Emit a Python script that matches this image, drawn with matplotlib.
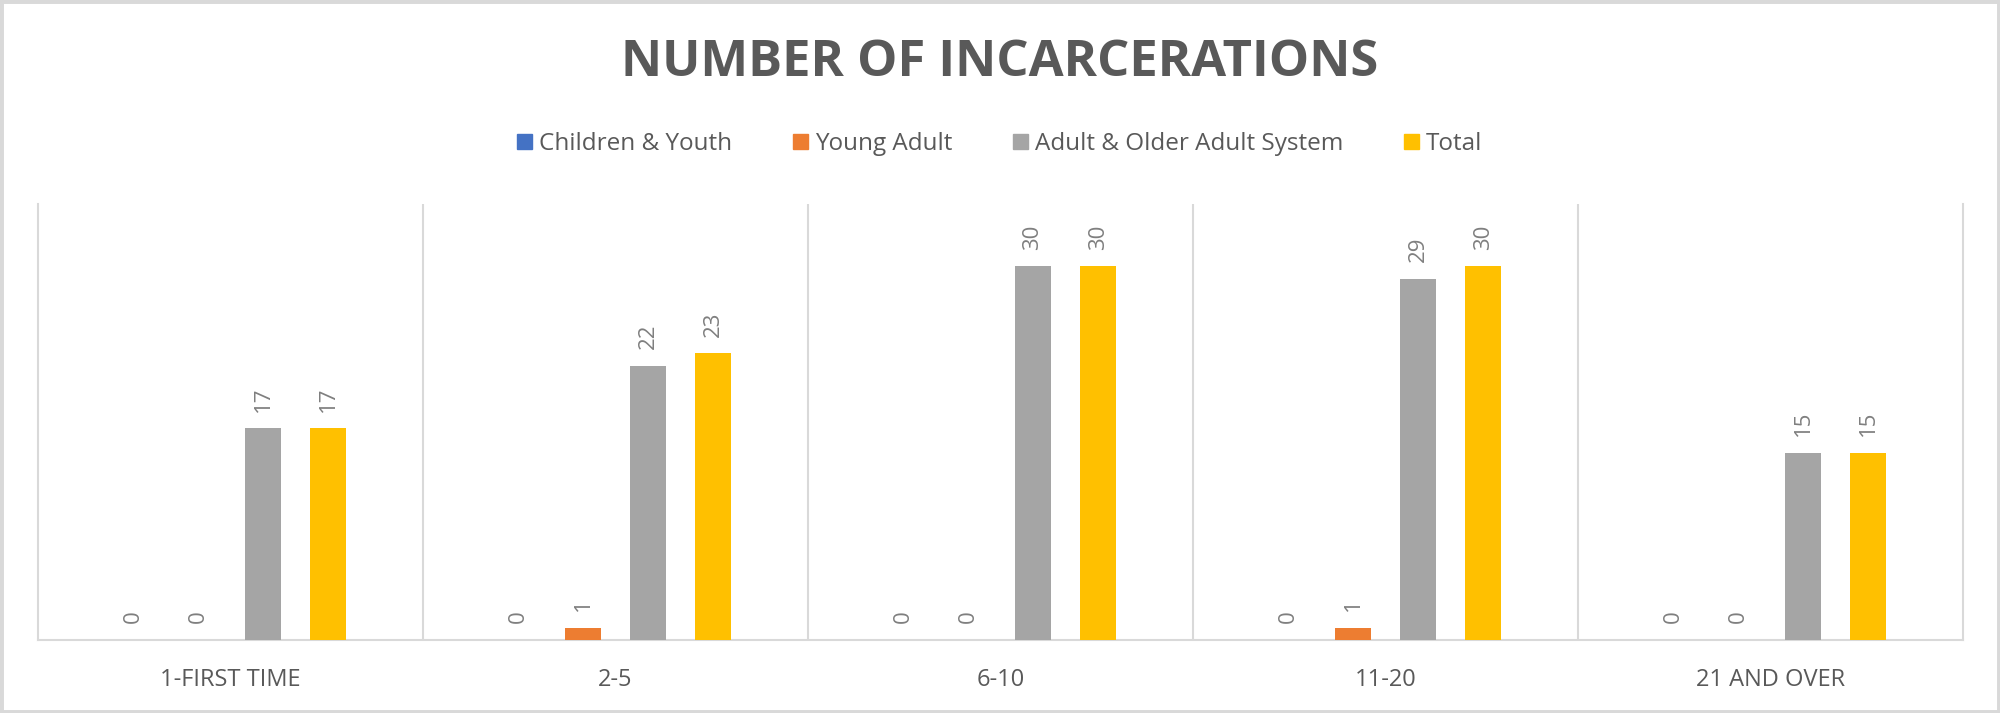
import matplotlib.pyplot as plt
from matplotlib.patches import Rectangle, Patch
import numpy as np

plt.rcParams['font.family'] = ['Open Sans', 'DejaVu Sans']

# data
categories = ["1-FIRST TIME", "2-5", "6-10", "11-20", "21 AND OVER"]
series_names = ["Children & Youth", "Young Adult", "Adult & Older Adult System", "Total"]
children_youth = [0, 0, 0, 0, 0]
young_adult = [0, 1, 0, 1, 0]
adult_older = [17, 22, 30, 29, 15]
total = [17, 23, 30, 30, 15]
colors = ["#4472C4", "#ED7D31", "#A5A5A5", "#FFC000"]

all_series = [children_youth, young_adult, adult_older, total]
text_color = "#595959"
label_color = "#7F7F7F"
grid_color = "#D9D9D9"

fig = plt.figure(figsize=(20, 7.13), dpi=100)
ax = fig.add_axes([0.019, 0.1024, 0.9625, 0.6115])

x = np.arange(len(categories))
spacing = 0.169
bar_width = 0.093
for i, (vals, col) in enumerate(zip(all_series, colors)):
    pos = x + (i - 1.5) * spacing
    ax.bar(pos, vals, width=bar_width, color=col, zorder=3)
    for p, v in zip(pos, vals):
        ax.annotate(str(v), (p, v), xytext=(0, 12), textcoords="offset points",
                    rotation=90, ha="center", va="bottom",
                    fontsize=16, color=label_color)

ax.set_xlim(-0.5, len(categories) - 0.5)
ax.set_ylim(0, 35)
ax.set_yticks([])
ax.set_xticks(x)
ax.set_xticklabels(categories, fontsize=17, color=text_color)
ax.tick_params(axis="x", length=0, pad=20)
for bnd in np.arange(0.5, len(categories) - 0.5, 1):
    ax.axvline(bnd, color=grid_color, linewidth=1.5, zorder=1)
ax.spines["top"].set_visible(False)
for s in ["left", "right", "bottom"]:
    ax.spines[s].set_color(grid_color)
    ax.spines[s].set_linewidth(1.5)

fig.text(0.5, 1 - 63 / 713, "NUMBER OF INCARCERATIONS", ha="center", va="center",
         fontsize=36.5, fontweight="bold", color=text_color)

handles = [Patch(color=c) for c in colors]
fig.legend(handles, series_names, loc="center", bbox_to_anchor=(0.5, 1 - 144 / 713),
           ncol=4, frameon=False, fontsize=17.5, labelcolor=text_color,
           handlelength=0.6, handleheight=0.6, handletextpad=0.3, columnspacing=2.5)

fig.patches.append(Rectangle((0, 0), 1, 1, transform=fig.transFigure, fill=False,
                             edgecolor=grid_color, linewidth=5))

plt.savefig("out.png")
plt.close()
